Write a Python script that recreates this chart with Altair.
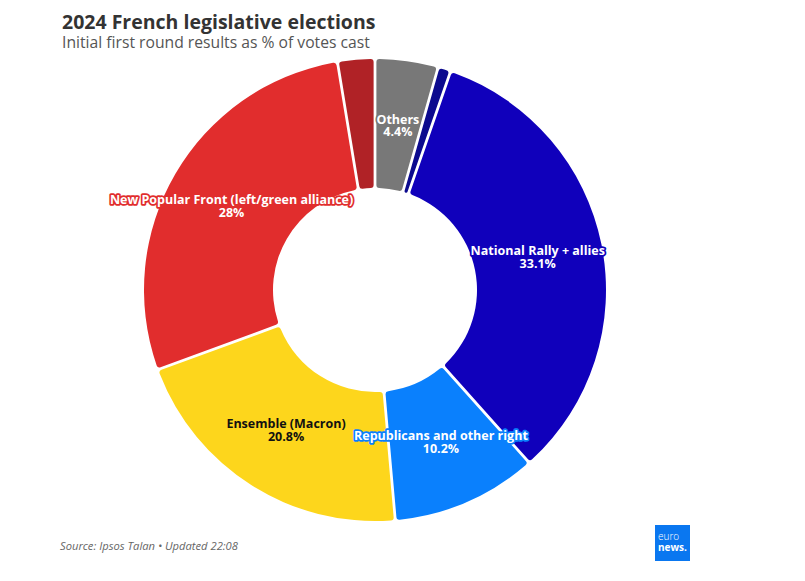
import altair as alt
import pandas as pd

parties = [
    "Others",
    "Other far right",
    "National Rally + allies",
    "Republicans and other right",
    "Ensemble (Macron)",
    "New Popular Front (left/green alliance)",
    "Other left",
]
values = [4.4, 0.9, 33.1, 10.2, 20.8, 28.0, 2.6]
value_labels = ["4.4%", "", "33.1%", "10.2%", "20.8%", "28%", ""]
show_label = [True, False, True, True, True, True, False]
colors = ["#787878", "#0c0a8e", "#1000bb", "#0a80fd", "#fdd61c", "#e12d2d", "#b02226"]

df = pd.DataFrame({
    "party": parties,
    "value": values,
    "order": list(range(len(parties))),
    "label": [f"{p}\n{v}" if s else "" for p, v, s in zip(parties, value_labels, show_label)],
})

W, H = 734, 564
FONT = "Open Sans"

scale = alt.Scale(domain=parties, range=colors)

base = alt.Chart(df).encode(
    theta=alt.Theta("value:Q", stack=True),
    order=alt.Order("order:Q"),
)

arcs = base.mark_arc(
    outerRadius=231, innerRadius=102, padAngle=0.011, cornerRadius=3
).encode(color=alt.Color("party:N", scale=scale, legend=None))

outline = base.mark_text(
    radius=166, dy=-6, font=FONT, fontSize=12.5, fontWeight="bold", lineBreak="\n",
    strokeWidth=3.5, strokeJoin="round", align="center", baseline="middle", lineHeight=12.5,
).encode(
    text="label:N",
    stroke=alt.Stroke("party:N", scale=scale, legend=None),
    color=alt.Color("party:N", scale=scale, legend=None),
)

labels = base.mark_text(
    radius=166, dy=-6, font=FONT, fontSize=12.5, fontWeight="bold", lineBreak="\n",
    align="center", baseline="middle", lineHeight=12.5,
).encode(
    text="label:N",
    color=alt.condition(alt.datum.party == "Ensemble (Macron)", alt.value("#111111"), alt.value("#ffffff")),
)

anno = pd.DataFrame({"k": [0]})
title = alt.Chart(anno).mark_text(
    text="2024 French legislative elections", font=FONT, fontSize=19.5, fontWeight="bold",
    color="#333333", align="left", baseline="alphabetic"
).encode(x=alt.value(54), y=alt.value(21))
subtitle = alt.Chart(anno).mark_text(
    text="Initial first round results as % of votes cast", font=FONT, fontSize=15.7,
    color="#555555", align="left", baseline="alphabetic"
).encode(x=alt.value(54), y=alt.value(40))
footer = alt.Chart(anno).mark_text(
    text="Source: Ipsos Talan • Updated 22:08", font=FONT, fontSize=11.2, fontStyle="italic",
    color="#666666", align="left", baseline="alphabetic"
).encode(x=alt.value(52), y=alt.value(542))
logo_box = alt.Chart(anno).mark_rect(color="#0a77f0").encode(
    x=alt.value(647), x2=alt.value(682), y=alt.value(517), y2=alt.value(553)
)
logo_t1 = alt.Chart(anno).mark_text(
    text="euro", font=FONT, fontSize=10, fontWeight=300, color="white", align="left", baseline="alphabetic"
).encode(x=alt.value(650), y=alt.value(532))
logo_t2 = alt.Chart(anno).mark_text(
    text="news.", font=FONT, fontSize=10, fontWeight="bold", color="white", align="left", baseline="alphabetic"
).encode(x=alt.value(650), y=alt.value(543))

chart = alt.layer(
    arcs, outline, labels, title, subtitle, footer, logo_box, logo_t1, logo_t2
).resolve_scale(color="independent").properties(
    width=W, height=H, padding=0, autosize=alt.AutoSizeParams(type="none"),
    background="white",
).configure_view(stroke=None)

chart.save("out.html", embed_options={"renderer": "svg", "actions": False})
